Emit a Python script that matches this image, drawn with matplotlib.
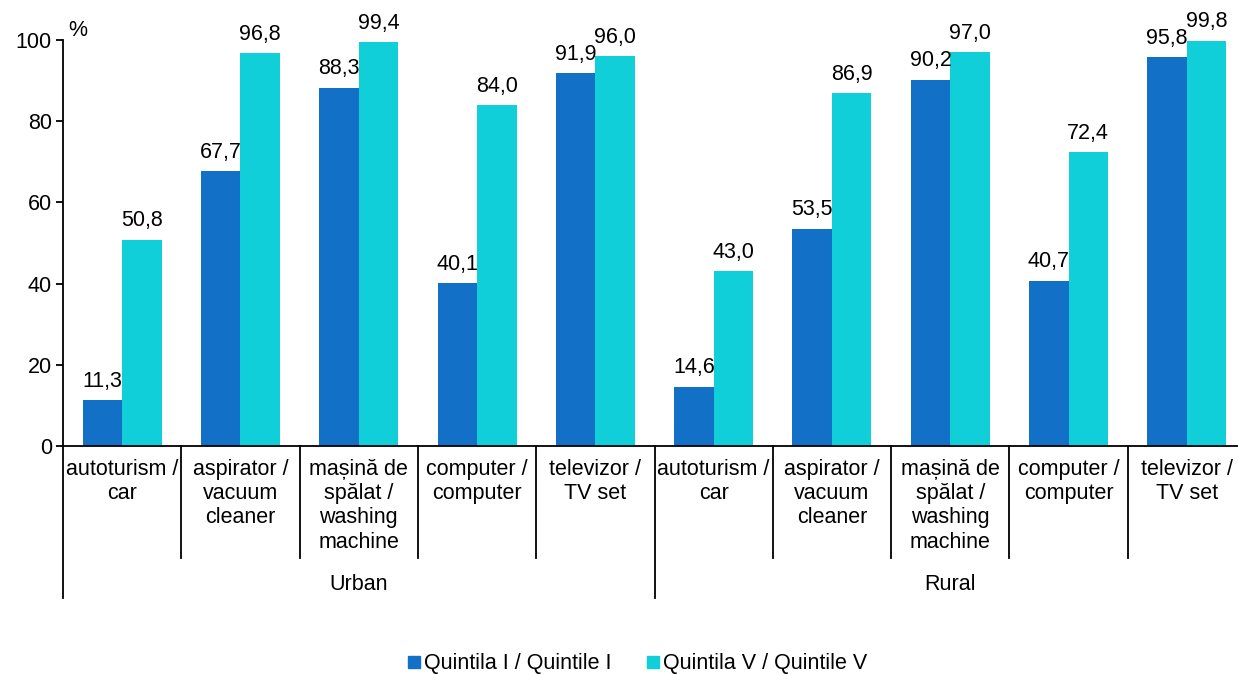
import matplotlib
matplotlib.use("Agg")
import matplotlib.pyplot as plt
from matplotlib.lines import Line2D
import matplotlib.transforms as mtransforms

plt.rcParams['font.family'] = ['Liberation Sans', 'DejaVu Sans']

categories = ["autoturism /\ncar", "aspirator /\nvacuum\ncleaner", "mașină de\nspălat /\nwashing\nmachine",
              "computer /\ncomputer", "televizor /\nTV set"] * 2
groups = ["Urban", "Rural"]
q1 = [11.3, 67.7, 88.3, 40.1, 91.9, 14.6, 53.5, 90.2, 40.7, 95.8]
q5 = [50.8, 96.8, 99.4, 84.0, 96.0, 43.0, 86.9, 97.0, 72.4, 99.8]
series_names = ["Quintila I / Quintile I", "Quintila V / Quintile V"]
yticks = [0, 20, 40, 60, 80, 100]

c1 = "#1270C6"
c5 = "#10CFD9"

W, H = 1238, 674
fig = plt.figure(figsize=(W / 100, H / 100), dpi=100)
left, right, top, bottom = 63, 1246, 40, 446
ax = fig.add_axes([left / W, (H - bottom) / H, (right - left) / W, (bottom - top) / H])

n = len(categories)
x = list(range(n))
bw = 0.334
b1 = ax.bar([i - bw / 2 for i in x], q1, width=bw, color=c1)
b5 = ax.bar([i + bw / 2 for i in x], q5, width=bw, color=c5)

fs = 15.5
for bars, vals in ((b1, q1), (b5, q5)):
    for r, v in zip(bars, vals):
        ax.annotate(f"{v:.1f}".replace(".", ","), (r.get_x() + r.get_width() / 2, v),
                    xytext=(0, 6), textcoords="offset points", ha="center", va="bottom",
                    fontsize=fs)

ax.set_xlim(-0.5, n - 0.5)
ax.set_ylim(0, 100)
ax.set_yticks(yticks)
ax.tick_params(axis='y', labelsize=fs, length=5, width=1.3, direction='out', pad=3)
ax.set_xticks([])
for s in ("top", "right"):
    ax.spines[s].set_visible(False)
ax.spines["left"].set_linewidth(1.3)
ax.spines["bottom"].set_linewidth(1.3)

trans = mtransforms.blended_transform_factory(ax.transData, ax.transAxes)
axh = bottom - top
sep_y = -(558 - bottom) / axh
grp_y = -(598 - bottom) / axh
for k in range(n + 1):
    xb = k - 0.5
    yb = grp_y if k % 5 == 0 else sep_y
    ax.plot([xb, xb], [0, yb], color="black", lw=1.3, transform=trans, clip_on=False)

for i, lab in enumerate(categories):
    ax.text(i, -(459 - bottom) / axh, lab, transform=trans, ha="center", va="top",
            fontsize=fs, linespacing=1.2)

for g, name in enumerate(groups):
    ax.text(g * 5 + 2, -(585 - bottom) / axh, name, transform=trans, ha="center",
            va="center", fontsize=fs)

fig.text(68 / W, 1 - 31 / H, "%", fontsize=fs, ha="left", va="center")

handles = [Line2D([], [], marker='s', linestyle='none', color=c, markersize=8.5) for c in (c1, c5)]
fig.legend(handles, series_names, loc="center", bbox_to_anchor=(636 / W, 1 - 664 / H),
           ncol=2, frameon=False, fontsize=fs, handletextpad=0.0, columnspacing=1.5,
           handlelength=0.9)

fig.savefig("out.png", dpi=100)
